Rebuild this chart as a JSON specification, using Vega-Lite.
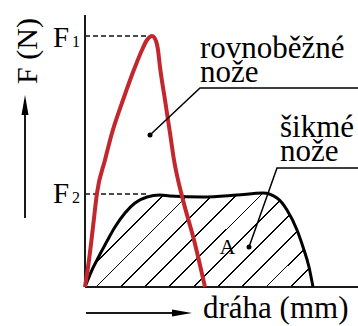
{
  "$schema": "https://vega.github.io/schema/vega-lite/v6.json",
  "width": 358,
  "height": 326,
  "padding": 0,
  "autosize": {"type": "none"},
  "background": "white",
  "config": {"view": {"stroke": null}},
  "datasets": {
    "red": [
      {"x": 0, "y": 0}, {"x": 4, "y": 27}, {"x": 8, "y": 60}, {"x": 12, "y": 94},
      {"x": 20, "y": 127}, {"x": 27, "y": 154}, {"x": 38, "y": 187}, {"x": 50, "y": 220},
      {"x": 57, "y": 237}, {"x": 62, "y": 247}, {"x": 67, "y": 251}, {"x": 71, "y": 246},
      {"x": 73, "y": 237}, {"x": 75, "y": 220}, {"x": 80, "y": 187}, {"x": 85, "y": 154},
      {"x": 89, "y": 127}, {"x": 98, "y": 87}, {"x": 109, "y": 47}, {"x": 120, "y": 0}
    ],
    "black": [
      {"x": 0, "y": 0}, {"x": 7, "y": 17}, {"x": 12, "y": 27}, {"x": 21, "y": 44},
      {"x": 30, "y": 60}, {"x": 40, "y": 74}, {"x": 50, "y": 84}, {"x": 62, "y": 90},
      {"x": 75, "y": 92}, {"x": 85, "y": 91}, {"x": 118, "y": 90}, {"x": 152, "y": 92},
      {"x": 178, "y": 94}, {"x": 192, "y": 89}, {"x": 202, "y": 77}, {"x": 212, "y": 57},
      {"x": 218, "y": 40}, {"x": 224, "y": 20}, {"x": 228, "y": 0}
    ],
    "rules": [
      {"kind": "axis", "x": 0, "y": 0, "x2": 0, "y2": 272},
      {"kind": "axis", "x": 0, "y": 0, "x2": 273, "y2": 0},
      {"kind": "axis", "x": -60, "y": 69, "x2": -60, "y2": 174},
      {"kind": "axis", "x": 1, "y": -26, "x2": 88, "y2": -26},
      {"kind": "dash", "x": 0, "y": 251, "x2": 66, "y2": 251},
      {"kind": "dash", "x": 0, "y": 93, "x2": 64, "y2": 93}
    ],
    "leaders": [
      {"id": "r", "o": 0, "x": 65, "y": 152},
      {"id": "r", "o": 1, "x": 115, "y": 199},
      {"id": "r", "o": 2, "x": 273, "y": 199},
      {"id": "b", "o": 0, "x": 164, "y": 40},
      {"id": "b", "o": 1, "x": 192, "y": 119},
      {"id": "b", "o": 2, "x": 273, "y": 119}
    ],
    "arrows": [
      {"dir": "up", "x": -60, "y": 182},
      {"dir": "right", "x": 97, "y": -26}
    ],
    "labels": [
      {"role": "big", "t": "rovnoběžné\nnože", "x": 115, "y": 229},
      {"role": "big", "t": "šikmé\nnože", "x": 195, "y": 150},
      {"role": "big", "t": "dráha (mm)", "x": 118, "y": -31},
      {"role": "F", "t": "F", "x": -32, "y": 240},
      {"role": "F", "t": "F", "x": -32, "y": 84},
      {"role": "sub", "t": "1", "x": -13, "y": 240},
      {"role": "sub", "t": "2", "x": -13, "y": 84},
      {"role": "A", "t": "A", "x": 142.5, "y": 33},
      {"role": "rot", "t": "F (N)", "x": -48, "y": 236}
    ]
  },
  "encoding": {
    "x": {"field": "x", "type": "quantitative", "scale": {"domain": [-85, 273], "nice": false, "zero": false}, "axis": null},
    "y": {"field": "y", "type": "quantitative", "scale": {"domain": [-39, 287], "nice": false, "zero": false}, "axis": null}
  },
  "layer": [
    {
      "data": {"name": "black"},
      "mark": {
        "type": "area",
        "interpolate": "monotone",
        "opacity": 1,
        "fill": {
          "gradient": "linear",
          "x1": 0, "y1": 0, "x2": 1.207, "y2": 0.498,
          "stops": [
            {"offset": 0, "color": "white"},
            {"offset": 0.0214, "color": "white"}, {"offset": 0.0214, "color": "black"}, {"offset": 0.0270, "color": "black"}, {"offset": 0.0270, "color": "white"},
            {"offset": 0.0969, "color": "white"}, {"offset": 0.0969, "color": "black"}, {"offset": 0.1025, "color": "black"}, {"offset": 0.1025, "color": "white"},
            {"offset": 0.1723, "color": "white"}, {"offset": 0.1723, "color": "black"}, {"offset": 0.1779, "color": "black"}, {"offset": 0.1779, "color": "white"},
            {"offset": 0.2478, "color": "white"}, {"offset": 0.2478, "color": "black"}, {"offset": 0.2534, "color": "black"}, {"offset": 0.2534, "color": "white"},
            {"offset": 0.3233, "color": "white"}, {"offset": 0.3233, "color": "black"}, {"offset": 0.3289, "color": "black"}, {"offset": 0.3289, "color": "white"},
            {"offset": 0.3987, "color": "white"}, {"offset": 0.3987, "color": "black"}, {"offset": 0.4043, "color": "black"}, {"offset": 0.4043, "color": "white"},
            {"offset": 0.4742, "color": "white"}, {"offset": 0.4742, "color": "black"}, {"offset": 0.4798, "color": "black"}, {"offset": 0.4798, "color": "white"},
            {"offset": 0.5497, "color": "white"}, {"offset": 0.5497, "color": "black"}, {"offset": 0.5553, "color": "black"}, {"offset": 0.5553, "color": "white"},
            {"offset": 0.6252, "color": "white"}, {"offset": 0.6252, "color": "black"}, {"offset": 0.6308, "color": "black"}, {"offset": 0.6308, "color": "white"},
            {"offset": 0.7006, "color": "white"}, {"offset": 0.7006, "color": "black"}, {"offset": 0.7062, "color": "black"}, {"offset": 0.7062, "color": "white"},
            {"offset": 0.7761, "color": "white"}, {"offset": 0.7761, "color": "black"}, {"offset": 0.7817, "color": "black"}, {"offset": 0.7817, "color": "white"},
            {"offset": 0.8516, "color": "white"}, {"offset": 0.8516, "color": "black"}, {"offset": 0.8572, "color": "black"}, {"offset": 0.8572, "color": "white"},
            {"offset": 0.9270, "color": "white"}, {"offset": 0.9270, "color": "black"}, {"offset": 0.9326, "color": "black"}, {"offset": 0.9326, "color": "white"},
            {"offset": 1, "color": "white"}
          ]
        }
      },
      "encoding": {"y2": {"datum": 0}}
    },
    {
      "data": {"name": "rules"},
      "transform": [{"filter": "datum.kind == 'dash'"}],
      "mark": {"type": "rule", "color": "#111", "strokeWidth": 1.5, "strokeDash": [5, 3]},
      "encoding": {"x2": {"field": "x2"}, "y2": {"field": "y2"}}
    },
    {
      "data": {"name": "rules"},
      "transform": [{"filter": "datum.kind == 'axis'"}],
      "mark": {"type": "rule", "color": "#1a1a1a", "strokeWidth": 2},
      "encoding": {"x2": {"field": "x2"}, "y2": {"field": "y2"}}
    },
    {
      "data": {"name": "black"},
      "mark": {"type": "line", "interpolate": "monotone", "color": "black", "strokeWidth": 3},
      "encoding": {}
    },
    {
      "data": {"name": "red"},
      "mark": {"type": "line", "interpolate": "monotone", "color": "#c1272d", "strokeWidth": 4},
      "encoding": {}
    },
    {
      "data": {"name": "leaders"},
      "mark": {"type": "line", "color": "black", "strokeWidth": 1.5},
      "encoding": {"detail": {"field": "id"}, "order": {"field": "o"}}
    },
    {
      "data": {"name": "leaders"},
      "transform": [{"filter": "datum.o == 0"}],
      "mark": {"type": "point", "filled": true, "opacity": 1, "color": "black", "size": 25},
      "encoding": {}
    },
    {
      "data": {"name": "arrows"},
      "transform": [{"filter": "datum.dir == 'up'"}],
      "mark": {"type": "point", "filled": true, "opacity": 1, "color": "black", "size": 400, "shape": "M0,-1L0.35,1L-0.35,1Z"},
      "encoding": {}
    },
    {
      "data": {"name": "arrows"},
      "transform": [{"filter": "datum.dir == 'right'"}],
      "mark": {"type": "point", "filled": true, "opacity": 1, "color": "black", "size": 400, "shape": "M1,0L-1,0.35L-1,-0.35Z"},
      "encoding": {}
    },
    {
      "data": {"name": "labels"},
      "transform": [{"filter": "datum.role == 'big'"}],
      "mark": {"type": "text", "font": "Liberation Serif", "fontSize": 31, "lineBreak": "\n", "lineHeight": 24, "align": "left", "baseline": "alphabetic", "color": "black"},
      "encoding": {"text": {"field": "t"}}
    },
    {
      "data": {"name": "labels"},
      "transform": [{"filter": "datum.role == 'F'"}],
      "mark": {"type": "text", "font": "Liberation Serif", "fontSize": 29, "align": "left", "baseline": "alphabetic", "color": "black"},
      "encoding": {"text": {"field": "t"}}
    },
    {
      "data": {"name": "labels"},
      "transform": [{"filter": "datum.role == 'sub'"}],
      "mark": {"type": "text", "font": "Liberation Serif", "fontSize": 16, "align": "left", "baseline": "alphabetic", "color": "black"},
      "encoding": {"text": {"field": "t"}}
    },
    {
      "data": {"name": "labels"},
      "transform": [{"filter": "datum.role == 'A'"}],
      "mark": {"type": "text", "font": "Liberation Serif", "fontSize": 22, "align": "center", "baseline": "alphabetic", "color": "black"},
      "encoding": {"text": {"field": "t"}}
    },
    {
      "data": {"name": "labels"},
      "transform": [{"filter": "datum.role == 'rot'"}],
      "mark": {"type": "text", "font": "Liberation Serif", "fontSize": 30, "align": "center", "baseline": "alphabetic", "angle": 270, "color": "black"},
      "encoding": {"text": {"field": "t"}}
    }
  ]
}
